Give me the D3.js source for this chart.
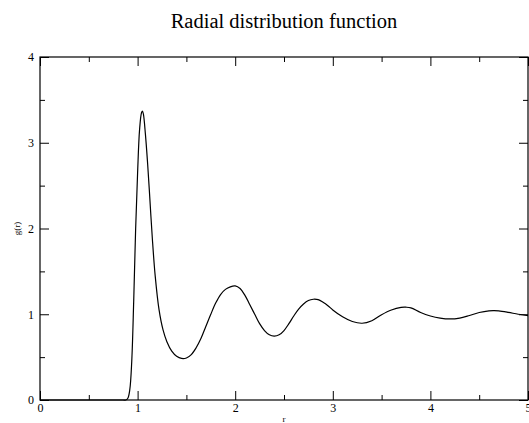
<!DOCTYPE html>
<html>
<head>
<meta charset="utf-8">
<script src="https://cdn.jsdelivr.net/npm/d3@7"></script>
<style>
  body { margin: 0; background: #fff; }
</style>
</head>
<body>
<div id="chart"></div>
<script>
// r values and g(r) values
const rValues = [
  0.00, 0.50, 0.85, 0.88, 0.90, 0.92, 0.94, 0.96, 0.98, 1.00, 1.02, 1.04, 1.05, 1.06,
  1.08, 1.10, 1.12, 1.15, 1.18, 1.22, 1.26, 1.30, 1.35, 1.40, 1.45, 1.50, 1.55,
  1.60, 1.65, 1.70, 1.75, 1.80, 1.85, 1.90, 1.95, 2.00, 2.05, 2.10, 2.15, 2.20,
  2.25, 2.30, 2.35, 2.40, 2.45, 2.50, 2.55, 2.60, 2.65, 2.70, 2.75, 2.80, 2.85,
  2.90, 2.95, 3.00, 3.10, 3.20, 3.30, 3.40, 3.50, 3.60, 3.70, 3.75, 3.80, 3.90,
  4.00, 4.10, 4.20, 4.30, 4.40, 4.50, 4.60, 4.65, 4.70, 4.80, 4.90, 5.00
];
const gValues = [
  0.00, 0.00, 0.00, 0.00, 0.02, 0.12, 0.45, 1.15, 2.00, 2.65, 3.15, 3.35, 3.37, 3.33,
  3.10, 2.80, 2.45, 1.90, 1.45, 1.05, 0.82, 0.68, 0.57, 0.51, 0.485, 0.49, 0.53,
  0.61, 0.72, 0.86, 1.00, 1.13, 1.23, 1.29, 1.32, 1.33, 1.30, 1.22, 1.11, 1.00,
  0.89, 0.81, 0.76, 0.745, 0.76, 0.81, 0.89, 0.98, 1.06, 1.12, 1.16, 1.175, 1.17,
  1.14, 1.10, 1.05, 0.97, 0.915, 0.895, 0.925, 0.995, 1.05, 1.08, 1.082, 1.075, 1.02,
  0.98, 0.955, 0.945, 0.955, 0.985, 1.02, 1.04, 1.042, 1.04, 1.022, 1.00, 0.985
];
const xTicks = [0, 1, 2, 3, 4, 5];
const yTicks = [0, 1, 2, 3, 4];
const xMinorTicks = [0.5, 1.5, 2.5, 3.5, 4.5];
const yMinorTicks = [0.5, 1.5, 2.5, 3.5];

const title = "Radial distribution function";
const xLabel = "r";
const yLabel = "g(r)";

const W = 529, H = 423;
const margin = { top: 57, right: 1, bottom: 23, left: 40 };
const width = W - margin.left - margin.right;
const height = H - margin.top - margin.bottom;
const serif = "'Liberation Serif', 'Times New Roman', Times, 'DejaVu Serif', serif";

const data = rValues.map((r, i) => ({ r: r, g: gValues[i] }));

const svg = d3.select("#chart").append("svg")
  .attr("width", W)
  .attr("height", H)
  .attr("font-family", serif);

const g = svg.append("g")
  .attr("transform", `translate(${margin.left},${margin.top})`);

const x = d3.scaleLinear().domain([0, 5]).range([0, width]);
const y = d3.scaleLinear().domain([0, 4]).range([height, 0]);

const major = 9, minor = 5;

function styleAxis(sel) {
  sel.attr("font-family", serif).attr("font-size", 12);
  sel.select(".domain").remove();
  sel.selectAll("line").attr("stroke", "#000").attr("stroke-width", 1);
  sel.selectAll("text").attr("fill", "#000");
}

// bottom
g.append("g").attr("transform", `translate(0,${height})`)
  .call(d3.axisBottom(x).tickValues(xTicks).tickFormat(d3.format("d")).tickSize(-major).tickPadding(3))
  .call(styleAxis);
g.append("g").attr("transform", `translate(0,${height})`)
  .call(d3.axisBottom(x).tickValues(xMinorTicks).tickFormat("").tickSize(-minor))
  .call(styleAxis);
// top
g.append("g")
  .call(d3.axisTop(x).tickValues(xTicks).tickFormat("").tickSize(-major))
  .call(styleAxis);
g.append("g")
  .call(d3.axisTop(x).tickValues(xMinorTicks).tickFormat("").tickSize(-minor))
  .call(styleAxis);
// left
g.append("g")
  .call(d3.axisLeft(y).tickValues(yTicks).tickFormat(d3.format("d")).tickSize(-major).tickPadding(6))
  .call(styleAxis);
g.append("g")
  .call(d3.axisLeft(y).tickValues(yMinorTicks).tickFormat("").tickSize(-minor))
  .call(styleAxis);
// right
g.append("g").attr("transform", `translate(${width},0)`)
  .call(d3.axisRight(y).tickValues(yTicks).tickFormat("").tickSize(-major))
  .call(styleAxis);
g.append("g").attr("transform", `translate(${width},0)`)
  .call(d3.axisRight(y).tickValues(yMinorTicks).tickFormat("").tickSize(-minor))
  .call(styleAxis);

// frame
g.append("rect")
  .attr("x", 0).attr("y", 0)
  .attr("width", width).attr("height", height)
  .attr("fill", "none")
  .attr("stroke", "#000")
  .attr("stroke-width", 1.2);

const line = d3.line()
  .x((d) => x(d.r))
  .y((d) => y(d.g))
  .curve(d3.curveCatmullRom.alpha(0.5));

g.append("path")
  .datum(data)
  .attr("fill", "none")
  .attr("stroke", "#000")
  .attr("stroke-width", 1.2)
  .attr("d", line);

svg.append("text")
  .attr("x", margin.left + width / 2)
  .attr("y", 28)
  .attr("text-anchor", "middle")
  .attr("font-size", 20.5)
  .text(title);

svg.append("text")
  .attr("x", margin.left + width / 2)
  .attr("y", 422)
  .attr("text-anchor", "middle")
  .attr("font-size", 9)
  .text(xLabel);

svg.append("text")
  .attr("transform", `translate(20,${margin.top + height / 2}) rotate(-90)`)
  .attr("text-anchor", "middle")
  .attr("font-size", 9)
  .text(yLabel);
</script>
</body>
</html>
